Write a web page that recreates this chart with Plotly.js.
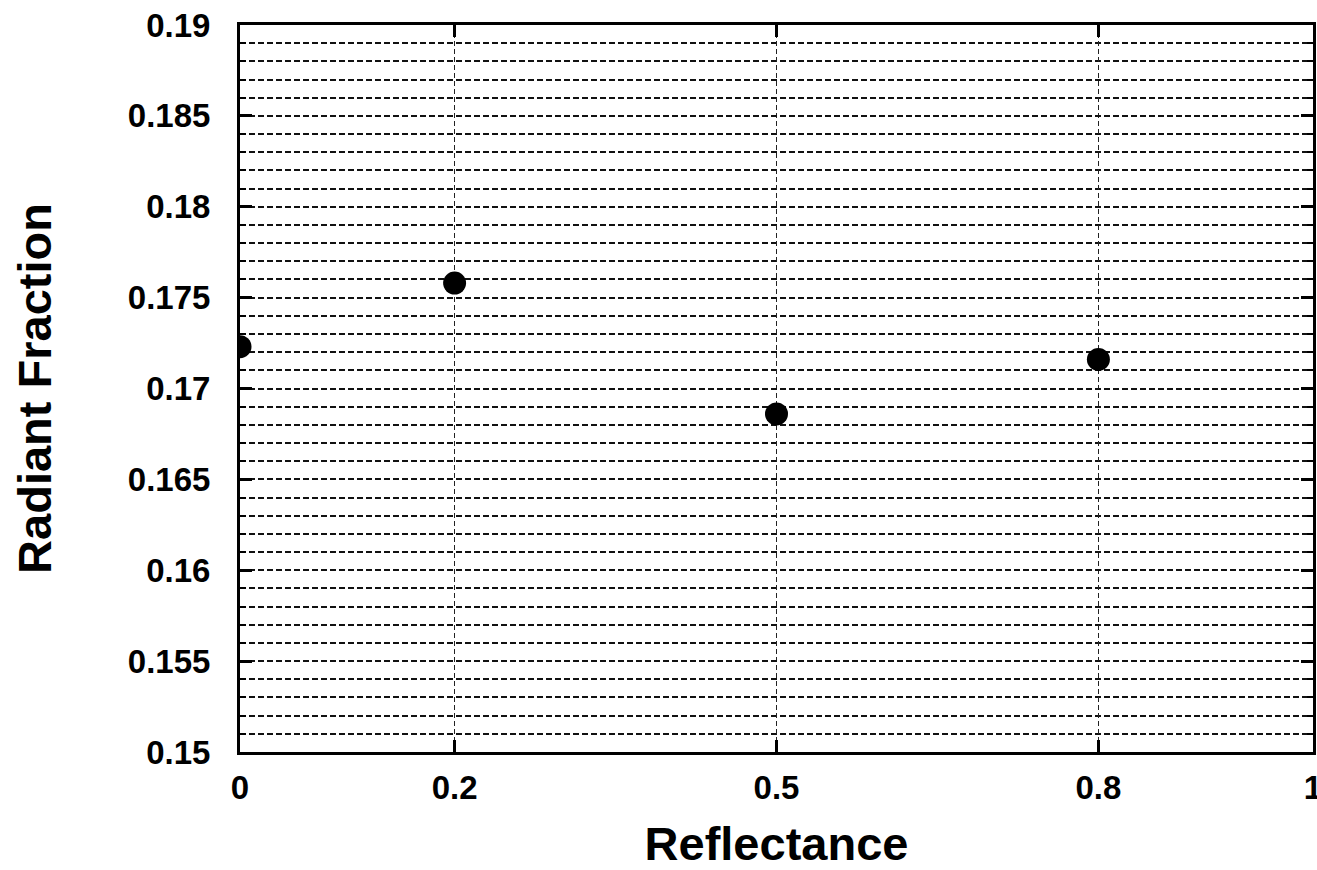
<!DOCTYPE html>
<html>
<head>
<meta charset="utf-8">
<script src="https://cdn.plot.ly/plotly-3.0.1.min.js"></script>
<style>html,body{margin:0;padding:0;background:#fff;}#chart{width:1317px;height:870px;}</style>
</head>
<body>
<div id="chart"></div>
<script>
const reflectance = [0, 0.2, 0.5, 0.8];
const radiantFraction = [0.1723, 0.1758, 0.1686, 0.1716];
const xTickVals = [0, 0.2, 0.5, 0.8, 1];
const xTickText = ['0', '0.2', '0.5', '0.8', '1'];
const yTickVals = [0.15, 0.155, 0.16, 0.165, 0.17, 0.175, 0.18, 0.185, 0.19];
const yTickText = ['0.15', '0.155', '0.16', '0.165', '0.17', '0.175', '0.18', '0.185', '0.19'];

const trace = {
  x: reflectance,
  y: radiantFraction,
  type: 'scatter',
  mode: 'markers',
  marker: {color: '#000', size: 23},
  showlegend: false,
  hoverinfo: 'x+y'
};

const tickFont = {family: 'Liberation Sans, Arial, sans-serif', size: 33, color: '#000', weight: 'bold'};
const titleFont = {family: 'Liberation Sans, Arial, sans-serif', size: 47, color: '#000', weight: 'bold'};

const layout = {
  width: 1317,
  height: 870,
  margin: {l: 240, r: 4, t: 25, b: 118},
  paper_bgcolor: '#fff',
  plot_bgcolor: '#fff',
  xaxis: {
    range: [0, 1],
    tickvals: xTickVals,
    ticktext: xTickText,
    ticks: 'inside',
    ticklen: 12,
    tickwidth: 3,
    tickcolor: '#000',
    showline: true,
    linecolor: '#000',
    linewidth: 3,
    mirror: 'ticks',
    showgrid: true,
    gridcolor: '#222',
    gridwidth: 1.5,
    griddash: '5px,3px',
    zeroline: false,
    tickfont: tickFont,
    ticklabelstandoff: 4,
    ticklabeloverflow: 'allow',
    title: {text: 'Reflectance', font: titleFont, standoff: 30}
  },
  yaxis: {
    range: [0.15, 0.19],
    tickvals: yTickVals,
    ticktext: yTickText,
    ticks: 'inside',
    ticklen: 12,
    tickwidth: 3,
    tickcolor: '#000',
    showline: true,
    linecolor: '#000',
    linewidth: 3,
    mirror: 'ticks',
    showgrid: true,
    gridcolor: '#111',
    gridwidth: 2,
    griddash: '6px,3px',
    zeroline: false,
    tickfont: tickFont,
    ticklabelstandoff: 20,
    minor: {
      dtick: 0.001,
      ticks: 'inside',
      ticklen: 6,
      tickwidth: 2,
      tickcolor: '#000',
      showgrid: true,
      gridcolor: '#111',
      gridwidth: 2,
      griddash: '6px,3px'
    },
    title: {text: 'Radiant Fraction', font: titleFont, standoff: 62}
  }
};

Plotly.newPlot('chart', [trace], layout, {displayModeBar: false, staticPlot: true});
</script>
</body>
</html>
